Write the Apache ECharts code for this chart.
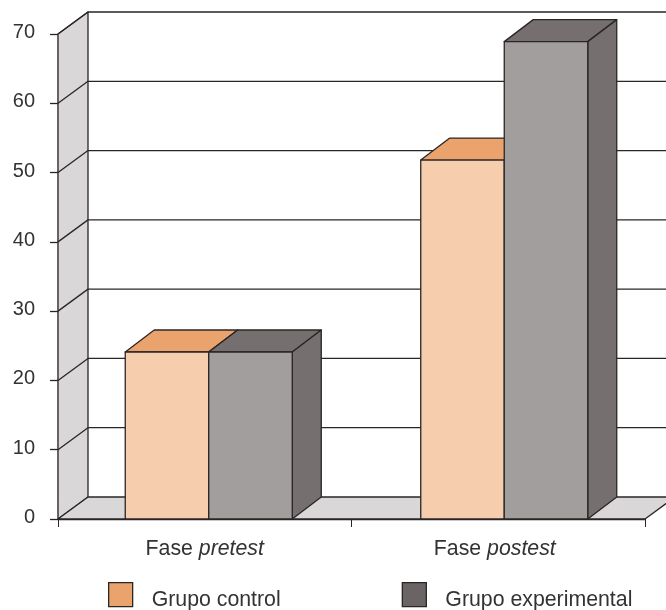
<!DOCTYPE html>
<html>
<head>
<meta charset="utf-8">
<style>
  html, body { margin: 0; padding: 0; background: #fff; }
  #chart { width: 666px; height: 610px; }
</style>
<script src="https://cdn.jsdelivr.net/npm/echarts@6/dist/echarts.min.js"></script>
</head>
<body>
<div id="chart"></div>
<script>
const categories = ['Fase pretest', 'Fase postest']
const controlValues = [24.1, 51.8]
const experimentalValues = [24.1, 68.9]
const yTicks = [0, 10, 20, 30, 40, 50, 60, 70]

const FONT = '"Liberation Sans", Arial, sans-serif'
const EDGE = '#2a2626'
const LABEL_SIZE = 21.3
const DEPTH_X = 29
const DEPTH_Y = 22
const BAR_WIDTH = 83.5
const BAR_SHIFT = [4, 6] // the bars are not quite centred on their bands
const lineStyle = { stroke: EDGE, lineWidth: 1.3, lineJoin: 'round' }

const chart = echarts.init(document.getElementById('chart'), null, { renderer: 'canvas' })

// walls, floor and gridlines of the fake 3D box
const renderBox = (params, api) => {
  const band = api.size([1, 0])[0]
  const left = api.coord([0, 0])[0] - band / 2
  const right = left + band * 2
  const y = api.coord([0, api.value(0)])[1]
  const children = []
  if (params.dataIndex === 0) {
    const top = api.coord([0, yTicks[yTicks.length - 1]])[1]
    children.push({
      type: 'polygon',
      shape: { points: [[left, y], [left + 30, y - DEPTH_Y], [left + 30, top - DEPTH_Y], [left, top]] },
      style: { fill: '#d9d7d8', ...lineStyle }
    })
    children.push({
      type: 'polygon',
      shape: { points: [[left, y], [left + 30, y - DEPTH_Y], [right + 30, y - DEPTH_Y], [right, y]] },
      style: { fill: '#d9d7d8', ...lineStyle }
    })
  } else {
    children.push({
      type: 'polyline',
      shape: { points: [[left, y], [left + 30, y - DEPTH_Y], [right + 30, y - DEPTH_Y]] },
      style: { fill: null, ...lineStyle }
    })
  }
  return { type: 'group', children }
}

const barRenderer = (side, front, top, flank) => (params, api) => {
  const cat = api.value(0)
  const [cx, y] = api.coord([cat, api.value(1)])
  const base = api.coord([cat, 0])[1]
  const x0 = cx + BAR_SHIFT[cat] + (side < 0 ? -BAR_WIDTH : 0)
  const x1 = x0 + BAR_WIDTH
  return {
    type: 'group',
    children: [
      {
        type: 'polygon',
        shape: { points: [[x0, y], [x0 + DEPTH_X, y - DEPTH_Y], [x1 + DEPTH_X, y - DEPTH_Y], [x1, y]] },
        style: { fill: top, ...lineStyle }
      },
      {
        type: 'polygon',
        shape: { points: [[x1, y], [x1 + DEPTH_X, y - DEPTH_Y], [x1 + DEPTH_X, base - DEPTH_Y], [x1, base]] },
        style: { fill: flank, ...lineStyle }
      },
      {
        type: 'rect',
        shape: { x: x0, y: y, width: BAR_WIDTH, height: base - y },
        style: { fill: front, ...lineStyle }
      }
    ]
  }
}

const option = {
  animation: false,
  textStyle: { fontFamily: FONT },
  grid: { left: 58, right: 21, top: 34, bottom: 91, containLabel: false },
  legend: {
    data: ['Grupo control', 'Grupo experimental'],
    left: 108,
    top: 582,
    padding: 0,
    icon: 'rect',
    itemWidth: 24,
    itemHeight: 24,
    itemGap: 121,
    selectedMode: false,
    itemStyle: { borderColor: EDGE, borderWidth: 1.3 },
    formatter: '{t|{name}}',
    textStyle: {
      rich: { t: { fontFamily: FONT, fontSize: LABEL_SIZE, color: '#333', padding: [10, 0, 0, 14] } }
    }
  },
  xAxis: {
    type: 'category',
    data: categories,
    axisLine: { lineStyle: { color: EDGE, width: 1.3 } },
    axisTick: { show: true, length: 8, lineStyle: { color: EDGE, width: 1 } },
    splitLine: { show: false },
    axisLabel: {
      margin: 20,
      color: '#333',
      fontSize: LABEL_SIZE,
      fontFamily: FONT,
      // second label sits a little left of its band centre
      formatter: (v, i) => v.replace(' ', i === 0 ? ' {i|' : ' {p|') + '}',
      rich: {
        i: { fontStyle: 'italic', fontSize: LABEL_SIZE, fontFamily: FONT, color: '#333' },
        p: { fontStyle: 'italic', fontSize: LABEL_SIZE, fontFamily: FONT, color: '#333', padding: [0, 7, 0, 0] }
      }
    }
  },
  yAxis: {
    type: 'value',
    min: 0,
    max: 70,
    interval: 10,
    axisLine: { show: true, lineStyle: { color: EDGE, width: 1.3 } },
    axisTick: { show: true, length: 8, lineStyle: { color: EDGE, width: 1.3 } },
    splitLine: { show: false },
    axisLabel: {
      margin: 23,
      color: '#333',
      fontFamily: FONT,
      // digits sit a little above their ticks
      formatter: '{n|{value}}',
      rich: { n: { fontFamily: FONT, fontSize: 20, color: '#333', padding: [0, 0, 3, 0] } }
    }
  },
  series: [
    {
      type: 'custom',
      name: 'box',
      renderItem: renderBox,
      data: yTicks.map((t) => [t]),
      encode: { y: 0 },
      silent: true
    },
    {
      type: 'custom',
      name: 'Grupo control',
      renderItem: barRenderer(-1, '#f6ceae', '#eba36e', '#eba36e'),
      data: controlValues.map((v, i) => [i, v]),
      encode: { x: 0, y: 1 },
      itemStyle: { color: '#eba36e' }
    },
    {
      type: 'custom',
      name: 'Grupo experimental',
      renderItem: barRenderer(1, '#a29e9d', '#75706f', '#75706f'),
      data: experimentalValues.map((v, i) => [i, v]),
      encode: { x: 0, y: 1 },
      itemStyle: { color: '#6a6464' }
    }
  ]
}

chart.setOption(option)
</script>
</body>
</html>
